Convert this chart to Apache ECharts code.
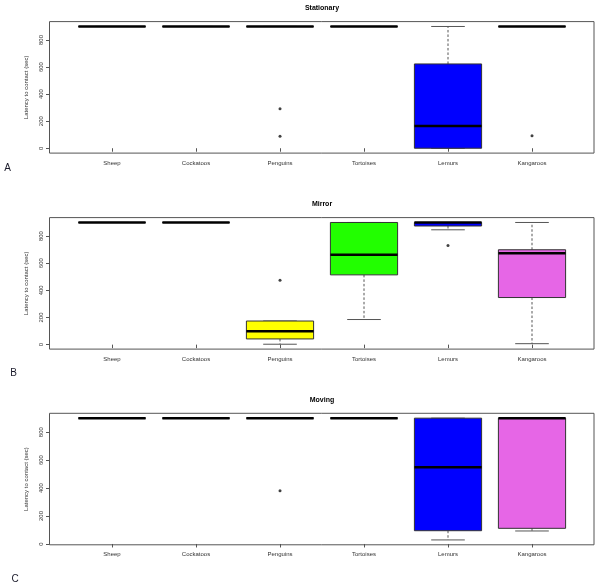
<!DOCTYPE html>
<html>
<head>
<meta charset="utf-8">
<script src="https://cdn.jsdelivr.net/npm/echarts@6/dist/echarts.min.js"></script>
<style>html,body{margin:0;padding:0;background:#fff;}#chart{width:600px;height:587px;}</style>
</head>
<body>
<div id="chart"></div>
<script>
const categories = ['Sheep', 'Cockatoos', 'Penguins', 'Tortoises', 'Lemurs', 'Kangaroos'];
const panelTitles = ['Stationary', 'Mirror', 'Moving'];
const panelLetters = ['A', 'B', 'C'];
const yTicks = [0, 200, 400, 600, 800];
const yTitle = 'Latency to contact (sec)';

// [min, Q1, median, Q3, max] per category
const stationaryStats = [
  [900, 900, 900, 900, 900],
  [900, 900, 900, 900, 900],
  [900, 900, 900, 900, 900],
  [900, 900, 900, 900, 900],
  [0, 0, 165, 623, 900],
  [900, 900, 900, 900, 900]
];
const stationaryOutliers = [[2, 292], [2, 89], [5, 93]];

const mirrorStats = [
  [900, 900, 900, 900, 900],
  [900, 900, 900, 900, 900],
  [3, 42, 98, 174, 174],
  [185, 514, 662, 900, 900],
  [846, 874, 900, 900, 900],
  [7, 347, 674, 699, 900]
];
const mirrorOutliers = [[2, 475], [4, 731]];

const movingStats = [
  [900, 900, 900, 900, 900],
  [900, 900, 900, 900, 900],
  [900, 900, 900, 900, 900],
  [900, 900, 900, 900, 900],
  [29, 95, 549, 900, 900],
  [93, 112, 900, 900, 900]
];
const movingOutliers = [[2, 380]];

const boxColors = ['#ffffff', '#ffffff', '#FFFF00', '#22FF00', '#0000FF', '#E666E6'];

const panels = [
  { stats: stationaryStats, outliers: stationaryOutliers },
  { stats: mirrorStats, outliers: mirrorOutliers },
  { stats: movingStats, outliers: movingOutliers }
];

const gridTops = [21.6, 217.6, 413.3];
const gridHeight = 131.5;
const titleYs = [8, 204, 399.7];
const letterPos = [[7.5, 168], [13.5, 373], [15, 579]];

function renderBox(params, api) {
  const cat = api.value(0);
  const vmin = api.value(1), q1 = api.value(2), med = api.value(3), q3 = api.value(4), vmax = api.value(5);
  const band = api.size([1, 0])[0];
  const bw = band * 0.8, cw = bw * 0.5;
  const x = api.coord([cat, med])[0];
  const y = v => api.coord([cat, v])[1];
  const children = [];
  const dash = { stroke: '#555', lineWidth: 1, lineDash: [2.5, 2] };
  const cap = { stroke: '#555', lineWidth: 1 };
  if (vmax > q3) children.push({ type: 'line', shape: { x1: x, y1: y(q3), x2: x, y2: y(vmax) }, style: dash });
  if (vmin < q1) children.push({ type: 'line', shape: { x1: x, y1: y(q1), x2: x, y2: y(vmin) }, style: dash });
  children.push({ type: 'line', shape: { x1: x - cw / 2, y1: y(vmax), x2: x + cw / 2, y2: y(vmax) }, style: cap });
  children.push({ type: 'line', shape: { x1: x - cw / 2, y1: y(vmin), x2: x + cw / 2, y2: y(vmin) }, style: cap });
  children.push({ type: 'rect', shape: { x: x - bw / 2, y: y(q3), width: bw, height: y(q1) - y(q3) },
    style: { fill: boxColors[cat], stroke: '#333', lineWidth: 1 } });
  children.push({ type: 'line', shape: { x1: x - bw / 2, y1: y(med), x2: x + bw / 2, y2: y(med) },
    style: { stroke: '#000', lineWidth: 2.5 } });
  return { type: 'group', children };
}

const grid = [], xAxis = [], yAxis = [], series = [], graphic = [];

panels.forEach((p, i) => {
  const all = [];
  p.stats.forEach(s => all.push(...s));
  p.outliers.forEach(o => all.push(o[1]));
  const lo = Math.min(...all), hi = Math.max(...all);
  const pad = (hi - lo) * 0.04;
  const ymin = lo - pad, ymax = hi + pad;

  // frame grid
  grid.push({ left: 49.5, width: 544.5, top: gridTops[i], height: gridHeight, show: true,
    borderColor: '#555', borderWidth: 1, backgroundColor: 'transparent' });
  // data grid
  grid.push({ left: 70, width: 504, top: gridTops[i], height: gridHeight });

  const fg = i * 2, dg = i * 2 + 1;
  xAxis.push({ gridIndex: fg, type: 'value', show: false, min: 0, max: 1 });
  yAxis.push({ gridIndex: fg, type: 'value', min: ymin, max: ymax,
    name: yTitle, nameLocation: 'middle', nameGap: 20, nameRotate: 90,
    nameTextStyle: { fontSize: 6, color: '#333', fontFamily: 'Liberation Sans' },
    axisLine: { show: false }, splitLine: { show: false },
    axisTick: { show: true, length: 3.5, customValues: yTicks, lineStyle: { color: '#555' } },
    axisLabel: { show: true, customValues: yTicks, rotate: 90, fontSize: 6, color: '#333', margin: 5,
      fontFamily: 'Liberation Sans' } });

  xAxis.push({ gridIndex: dg, type: 'category', data: categories, boundaryGap: true,
    axisLine: { show: false }, splitLine: { show: false },
    axisTick: { show: true, alignWithLabel: true, length: 3.5, lineStyle: { color: '#555' } },
    axisLabel: { fontSize: 6, color: '#333', margin: 7, fontFamily: 'Liberation Sans' } });
  yAxis.push({ gridIndex: dg, type: 'value', min: ymin, max: ymax, show: false, splitLine: { show: false } });

  series.push({
    type: 'custom', xAxisIndex: dg, yAxisIndex: dg, renderItem: renderBox,
    data: p.stats.map((s, k) => [k, ...s]),
    encode: { x: 0, y: [1, 2, 3, 4, 5] }, silent: true, animation: false
  });
  series.push({
    type: 'scatter', xAxisIndex: dg, yAxisIndex: dg, symbol: 'circle', symbolSize: 3,
    itemStyle: { color: '#111' }, data: p.outliers, silent: true, animation: false
  });

  graphic.push({ type: 'text', x: 322, y: titleYs[i],
    style: { text: panelTitles[i], font: 'bold 7px "Liberation Sans"', fill: '#000', textAlign: 'center', textVerticalAlign: 'middle' } });
  graphic.push({ type: 'text', x: letterPos[i][0], y: letterPos[i][1],
    style: { text: panelLetters[i], font: '10px "Liberation Sans"', fill: '#1a1a2a', textAlign: 'center', textVerticalAlign: 'middle' } });
});

const chart = echarts.init(document.getElementById('chart'), null, { renderer: 'canvas' });
chart.setOption({ animation: false, grid, xAxis, yAxis, series, graphic });
</script>
</body>
</html>
